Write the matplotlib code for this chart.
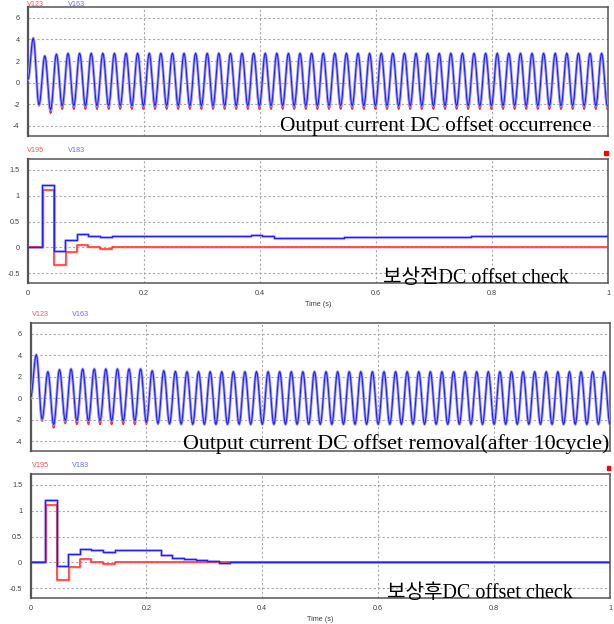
import matplotlib
matplotlib.use("Agg")
import matplotlib.pyplot as plt
import numpy as np

plt.rcParams['axes.unicode_minus'] = False

# ---------------- data ----------------
# Sine panels: 50 Hz output current, per-cycle peak / trough values
half_period = 0.01
half_shape = [0.0, 0.038, 0.146, 0.309, 0.5, 0.691, 0.854, 0.962]  # transition shape between extremes

p1_first_peak_t = 0.009
p1_blue_start = 0.3
p1_blue_peaks = [4.12, 2.48, 2.64, 2.72, 2.72, 2.72, 2.72, 2.72, 2.72, 2.72,
                 2.72, 2.72, 2.72, 2.72, 2.72, 2.72, 2.72, 2.72, 2.72, 2.72,
                 2.72, 2.72, 2.72, 2.72, 2.72, 2.72, 2.72, 2.72, 2.72, 2.72,
                 2.72, 2.72, 2.72, 2.72, 2.72, 2.72, 2.72, 2.72, 2.72, 2.72,
                 2.72, 2.72, 2.72, 2.72, 2.72, 2.72, 2.72, 2.72, 2.72, 2.72]
p1_blue_troughs = [-2.06, -2.52, -2.15, -2.15, -2.15, -2.15, -2.15, -2.15, -2.15, -2.15,
                   -2.15, -2.15, -2.15, -2.15, -2.15, -2.15, -2.15, -2.15, -2.15, -2.15,
                   -2.15, -2.15, -2.15, -2.15, -2.15, -2.15, -2.15, -2.15, -2.15, -2.15,
                   -2.15, -2.15, -2.15, -2.15, -2.15, -2.15, -2.15, -2.15, -2.15, -2.15,
                   -2.15, -2.15, -2.15, -2.15, -2.15, -2.15, -2.15, -2.15, -2.15, -2.15]
p1_red_start = 0.3
p1_red_peaks = [4.05, 2.30, 2.43, 2.45, 2.45, 2.45, 2.45, 2.45, 2.45, 2.45,
                2.45, 2.45, 2.45, 2.45, 2.45, 2.45, 2.45, 2.45, 2.45, 2.45,
                2.45, 2.45, 2.45, 2.45, 2.45, 2.45, 2.45, 2.45, 2.45, 2.45,
                2.45, 2.45, 2.45, 2.45, 2.45, 2.45, 2.45, 2.45, 2.45, 2.45,
                2.45, 2.45, 2.45, 2.45, 2.45, 2.45, 2.45, 2.45, 2.45, 2.45]
p1_red_troughs = [-2.15, -2.83, -2.45, -2.45, -2.45, -2.45, -2.45, -2.45, -2.45, -2.45,
                  -2.45, -2.45, -2.45, -2.45, -2.45, -2.45, -2.45, -2.45, -2.45, -2.45,
                  -2.45, -2.45, -2.45, -2.45, -2.45, -2.45, -2.45, -2.45, -2.45, -2.45,
                  -2.45, -2.45, -2.45, -2.45, -2.45, -2.45, -2.45, -2.45, -2.45, -2.45,
                  -2.45, -2.45, -2.45, -2.45, -2.45, -2.45, -2.45, -2.45, -2.45, -2.45]

p3_first_peak_t = 0.010
p3_blue_start = 0.0
p3_blue_peaks = [4.05, 2.47, 2.66, 2.72, 2.72, 2.72, 2.72, 2.72, 2.72, 2.72,
                 2.56, 2.56, 2.50, 2.47, 2.47, 2.47, 2.47, 2.47, 2.47, 2.47,
                 2.47, 2.47, 2.47, 2.47, 2.47, 2.47, 2.47, 2.47, 2.47, 2.47,
                 2.47, 2.47, 2.47, 2.47, 2.47, 2.47, 2.47, 2.47, 2.47, 2.47,
                 2.47, 2.47, 2.47, 2.47, 2.47, 2.47, 2.47, 2.47, 2.47, 2.47]
p3_blue_troughs = [-1.97, -2.47, -2.10, -2.12, -2.12, -2.12, -2.12, -2.15, -2.15, -2.28,
                   -2.37, -2.41, -2.43, -2.45, -2.45, -2.45, -2.45, -2.45, -2.45, -2.45,
                   -2.45, -2.45, -2.45, -2.45, -2.45, -2.45, -2.45, -2.45, -2.45, -2.45,
                   -2.45, -2.45, -2.45, -2.45, -2.45, -2.45, -2.45, -2.45, -2.45, -2.45,
                   -2.45, -2.45, -2.45, -2.45, -2.45, -2.45, -2.45, -2.45, -2.45, -2.45]
p3_red_start = 0.0
p3_red_peaks = [4.00, 2.27, 2.40, 2.45, 2.45, 2.45, 2.45, 2.45, 2.45, 2.45,
                2.45, 2.45, 2.45, 2.45, 2.45, 2.45, 2.45, 2.45, 2.45, 2.45,
                2.45, 2.45, 2.45, 2.45, 2.45, 2.45, 2.45, 2.45, 2.45, 2.45,
                2.45, 2.45, 2.45, 2.45, 2.45, 2.45, 2.45, 2.45, 2.45, 2.45,
                2.45, 2.45, 2.45, 2.45, 2.45, 2.45, 2.45, 2.45, 2.45, 2.45]
p3_red_troughs = [-2.15, -2.77, -2.37, -2.45, -2.45, -2.45, -2.45, -2.45, -2.45, -2.45,
                  -2.45, -2.45, -2.45, -2.45, -2.45, -2.45, -2.45, -2.45, -2.45, -2.45,
                  -2.45, -2.45, -2.45, -2.45, -2.45, -2.45, -2.45, -2.45, -2.45, -2.45,
                  -2.45, -2.45, -2.45, -2.45, -2.45, -2.45, -2.45, -2.45, -2.45, -2.45,
                  -2.45, -2.45, -2.45, -2.45, -2.45, -2.45, -2.45, -2.45, -2.45, -2.45]

# DC offset check panels (step signals)
p2_blue_t = [0, 0.024, 0.044, 0.064, 0.084, 0.104, 0.124, 0.144, 0.364, 0.384, 0.404, 0.424, 0.544, 0.764, 1.0]
p2_blue_v = [0, 1.20, -0.07, 0.15, 0.26, 0.22, 0.20, 0.22, 0.21, 0.23, 0.21, 0.18, 0.20, 0.215, 0.215]
p2_red_t = [0, 0.026, 0.045, 0.065, 0.085, 0.104, 0.124, 0.145, 1.0]
p2_red_v = [0, 1.11, -0.35, -0.09, 0.05, 0.0, -0.03, 0.0, 0.0]

p4_blue_t = [0, 0.025, 0.045, 0.065, 0.085, 0.105, 0.125, 0.145, 0.225, 0.245, 0.265,
             0.285, 0.305, 0.325, 0.345, 0.365, 0.462, 1.0]
p4_blue_v = [0, 1.20, -0.065, 0.155, 0.265, 0.23, 0.21, 0.23, 0.14, 0.085, 0.07,
             0.04, 0.02, -0.02, 0.0, 0.015, 0.0, 0.0]
p4_red_t = [0, 0.026, 0.046, 0.066, 0.086, 0.105, 0.125, 0.145, 1.0]
p4_red_v = [0, 1.11, -0.35, -0.085, 0.06, 0.0, -0.03, 0.0, 0.0]

wave_yticks = [6, 4, 2, 0, -2, -4]
wave_yticklabels = ["6", "4", "2", "0", "-2", "-4"]
dc_yticks = [1.5, 1, 0.5, 0, -0.5]
dc_yticklabels = ["1.5", "1", "0.5", "0", "-0.5"]
xticks = [0, 0.2, 0.4, 0.6, 0.8, 1.0]
xticklabels = ["0", "0.2", "0.4", "0.6", "0.8", "1"]

p1_names = ["V123", "V163"]
p2_names = ["V195", "V183"]
p3_names = ["V123", "V163"]
p4_names = ["V195", "V183"]

notes = ["Output current DC offset occurrence",
         "보상전DC offset check",
         "Output current DC offset removal(after 10cycle)",
         "보상후DC offset check"]

# ---------------- helpers ----------------
RED = "#ff3030"
RED_L = "#ffa8a8"
BLUE = "#1f1fff"
BLUE_L = "#a0a0ff"
GRID = "#a8a8a8"
TICKC = "#404040"
W, H = 614, 624


def build_wave(first_peak_t, start, peaks, troughs):
    ext = [start]
    for p, tr in zip(peaks, troughs):
        ext += [p, tr]
    ext_t = [0.0] + [first_peak_t + half_period * i for i in range(len(ext) - 1)]
    n = len(half_shape)
    ts, vs = [], []
    for i in range(len(ext) - 1):
        t0, t1 = ext_t[i], ext_t[i + 1]
        for j in range(n):
            ts.append(t0 + (t1 - t0) * j / n)
            vs.append(ext[i] + (ext[i + 1] - ext[i]) * half_shape[j])
    ts.append(ext_t[-1]); vs.append(ext[-1])
    return np.array(ts), np.array(vs)


def add_axes(fig, left, top, right, bottom):
    return fig.add_axes([left / W, 1 - bottom / H, (right - left) / W, (bottom - top) / H])


def style(ax, yticks, yticklabels, ylim, show_x):
    ax.set_xlim(0, 1)
    ax.set_ylim(*ylim)
    ax.set_yticks(yticks)
    ax.set_yticklabels(yticklabels, fontsize=5.2, color=TICKC, family="Liberation Sans")
    ax.set_xticks(xticks)
    if show_x:
        ax.set_xticklabels(xticklabels, fontsize=5.2, color=TICKC, family="Liberation Sans")
        ax.set_xlabel("Time (s)", fontsize=5.2, color=TICKC, family="Liberation Sans", labelpad=3)
    else:
        ax.set_xticklabels([])
    ax.tick_params(length=0, pad=6)
    ax.tick_params(axis='x', pad=5)
    ax.grid(True, color=GRID, linestyle=(0, (2, 2)), linewidth=0.8)
    ax.set_axisbelow(True)
    for s in ax.spines.values():
        s.set_color("#555555")
        s.set_linewidth(1.1)
    ax.spines['left'].set_linewidth(1.6)


def draw_wave(ax, blue, red):
    ax.plot(*red, color=RED, lw=1.2, zorder=2)
    ax.plot(*blue, color=BLUE_L, lw=2.0, zorder=3)
    ax.plot(*blue, color=BLUE, lw=0.8, zorder=4)


def draw_steps(ax, bt, bv, rt, rv):
    ax.step(rt, rv, where='post', color=RED_L, lw=2.0, alpha=0.5, zorder=2)
    ax.step(bt, bv, where='post', color=BLUE_L, lw=2.2, alpha=0.6, zorder=2)
    ax.step(rt, rv, where='post', color=RED, lw=1.1, zorder=3)
    ax.step(bt, bv, where='post', color=BLUE, lw=1.0, zorder=4)


def names(fig, x_red, x_blue, y_px, labels):
    fig.text(x_red / W, 1 - y_px / H, labels[0], color="#ff5050", fontsize=5.2,
             family="Liberation Sans", va='baseline')
    fig.text(x_blue / W, 1 - y_px / H, labels[1], color="#6a6aff", fontsize=5.2,
             family="Liberation Sans", va='baseline')


def note(fig, x_px, y_px, s, size):
    fig.text(x_px / W, 1 - y_px / H, s, fontsize=size, color="black",
             family=["Liberation Serif", "Noto Sans CJK KR"], va='baseline', zorder=10)


fig = plt.figure(figsize=(W / 100, H / 100), dpi=100)
fig.patch.set_facecolor("white")

wave_ylim = (-4.93, 7.0)
dc_ylim = (-0.69, 1.71)

# Panel 1
ax1 = add_axes(fig, 28, 7, 608, 136)
style(ax1, wave_yticks, wave_yticklabels, wave_ylim, False)
draw_wave(ax1, build_wave(p1_first_peak_t, p1_blue_start, p1_blue_peaks, p1_blue_troughs),
          build_wave(p1_first_peak_t, p1_red_start, p1_red_peaks, p1_red_troughs))
names(fig, 27, 68, 5.5, p1_names)

# Panel 2
ax2 = add_axes(fig, 28, 159, 608, 283)
style(ax2, dc_yticks, dc_yticklabels, dc_ylim, True)
draw_steps(ax2, p2_blue_t, p2_blue_v, p2_red_t, p2_red_v)
names(fig, 27, 68, 152, p2_names)

# Panel 3
ax3 = add_axes(fig, 30.5, 323, 610, 451)
style(ax3, wave_yticks, wave_yticklabels, wave_ylim, False)
draw_wave(ax3, build_wave(p3_first_peak_t, p3_blue_start, p3_blue_peaks, p3_blue_troughs),
          build_wave(p3_first_peak_t, p3_red_start, p3_red_peaks, p3_red_troughs))
names(fig, 31.5, 72, 316, p3_names)

# Panel 4
ax4 = add_axes(fig, 30.5, 474, 610, 598)
style(ax4, dc_yticks, dc_yticklabels, dc_ylim, True)
draw_steps(ax4, p4_blue_t, p4_blue_v, p4_red_t, p4_red_v)
names(fig, 31.5, 72, 467, p4_names)

# red markers at top right of the DC panels
fig.patches.append(plt.Rectangle((604 / W, 1 - 154.5 / H), 3.5 / W, 3.5 / H,
                                 transform=fig.transFigure, color="#ff0000"))
fig.patches.append(plt.Rectangle((606.5 / W, 1 - 469.5 / H), 3.5 / W, 3.5 / H,
                                 transform=fig.transFigure, color="#ff0000"))

# annotations
note(fig, 280, 131.5, notes[0], 15.3)
note(fig, 383, 282.5, notes[1], 14.5)
note(fig, 183, 448.5, notes[2], 15.8)
note(fig, 387, 598.5, notes[3], 14.5)

fig.savefig("out.png", dpi=100, facecolor="white")
